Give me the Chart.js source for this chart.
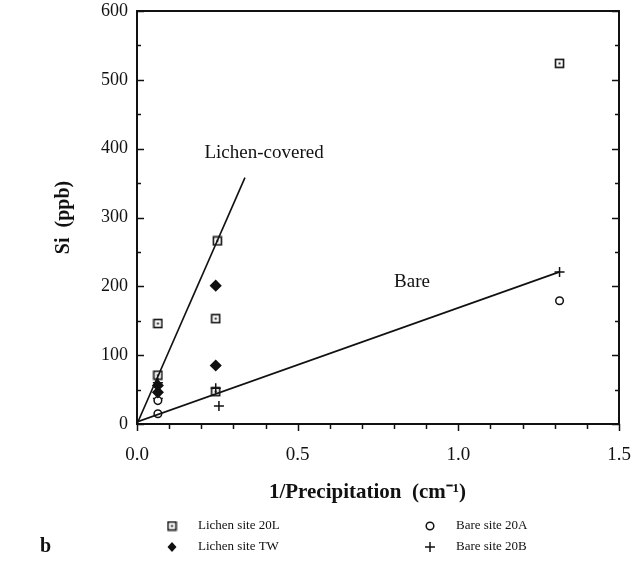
<!DOCTYPE html>
<html>
<head>
<meta charset="utf-8">
<script src="https://cdn.jsdelivr.net/npm/chart.js@4.4.1/dist/chart.umd.min.js"></script>
<style>
  html, body { margin: 0; padding: 0; background: #fff; }
  #chart { display: block; }
</style>
</head>
<body>
<canvas id="chart" width="633" height="566" style="width:633px;height:566px"></canvas>
<script>
// data (x = 1/precipitation in cm-1, y = Si in ppb)
const lichen20L_x = [0.065, 0.065, 0.25, 0.245, 0.245, 1.315];
const lichen20L_y = [146, 71, 266, 153, 47, 524];
const lichenTW_x = [0.065, 0.065, 0.245, 0.245];
const lichenTW_y = [56, 46, 201, 85];
const bare20A_x = [0.065, 0.065, 1.315];
const bare20A_y = [34, 15, 179];
const bare20B_x = [0.065, 0.065, 0.245, 0.255, 1.315];
const bare20B_y = [60, 37, 52, 26, 221];

// fitted lines
const lichenLine_x = [0, 0.336];
const lichenLine_y = [0, 358];
const bareLine_x = [0, 1.315];
const bareLine_y = [3, 221];

const yTickValues = [0, 100, 200, 300, 400, 500, 600];
const xTickValues = [0, 0.5, 1.0, 1.5];

const legendLabels = ['Lichen site 20L', 'Lichen site TW', 'Bare site 20A', 'Bare site 20B'];

const serif = "'Liberation Serif', 'Times New Roman', serif";
Chart.defaults.font.family = serif;
Chart.defaults.color = '#111';

function pts(xs, ys) {
  return xs.map((x, i) => ({ x: x, y: ys[i] }));
}

// square with a dot inside
function squareDot() {
  const c = document.createElement('canvas');
  c.width = 11; c.height = 11;
  const g = c.getContext('2d');
  g.strokeStyle = '#111';
  g.lineWidth = 1.6;
  g.strokeRect(1.5, 1.5, 8, 8);
  g.fillStyle = '#111';
  g.fillRect(4.5, 4.5, 2, 2);
  return c;
}
const squareImg = squareDot();

function drawMarker(ctx, kind, x, y) {
  ctx.save();
  ctx.strokeStyle = '#111';
  ctx.fillStyle = '#111';
  ctx.lineWidth = 1.5;
  if (kind === 0) {
    ctx.drawImage(squareImg, x - 5.5, y - 5.5);
  } else if (kind === 1) {
    ctx.beginPath();
    ctx.moveTo(x, y - 5); ctx.lineTo(x + 4.5, y); ctx.lineTo(x, y + 5); ctx.lineTo(x - 4.5, y);
    ctx.closePath(); ctx.fill();
  } else if (kind === 2) {
    ctx.beginPath(); ctx.arc(x, y, 3.8, 0, Math.PI * 2); ctx.stroke();
  } else {
    ctx.beginPath();
    ctx.moveTo(x - 5, y); ctx.lineTo(x + 5, y);
    ctx.moveTo(x, y - 5); ctx.lineTo(x, y + 5);
    ctx.stroke();
  }
  ctx.restore();
}

const framePlugin = {
  id: 'frame',
  afterDraw(chart) {
    const { ctx, chartArea: a, scales: { x, y } } = chart;
    ctx.save();
    ctx.strokeStyle = '#111';
    ctx.lineWidth = 2;
    ctx.strokeRect(a.left, a.top, a.right - a.left, a.bottom - a.top);

    ctx.lineWidth = 1.5;
    ctx.beginPath();
    // y ticks every 50, inside on both sides
    for (let v = 0; v <= 600; v += 50) {
      const py = Math.round(y.getPixelForValue(v)) + 0.5;
      const len = v % 100 === 0 ? 7 : 4;
      ctx.moveTo(a.left, py); ctx.lineTo(a.left + len, py);
      ctx.moveTo(a.right, py); ctx.lineTo(a.right - len, py);
    }
    // x ticks every 0.1, pointing down
    for (let i = 0; i <= 15; i++) {
      const px = Math.round(x.getPixelForValue(i / 10)) + 0.5;
      const len = i % 5 === 0 ? 7 : 5;
      ctx.moveTo(px, a.bottom); ctx.lineTo(px, a.bottom + len);
    }
    ctx.stroke();

    // line labels
    ctx.fillStyle = '#111';
    ctx.font = '19px ' + serif;
    ctx.textBaseline = 'middle';
    ctx.textAlign = 'left';
    ctx.fillText('Lichen-covered', x.getPixelForValue(0.21), y.getPixelForValue(394));
    ctx.fillText('Bare', x.getPixelForValue(0.80), y.getPixelForValue(206));

    // legend in two columns
    ctx.font = '13px ' + serif;
    const cols = [172, 430];
    const rows = [526, 547];
    const order = [[0, 0, 0], [1, 0, 1], [2, 1, 0], [3, 1, 1]];
    order.forEach(([k, c, r]) => {
      drawMarker(ctx, k, cols[c], rows[r]);
      ctx.fillText(legendLabels[k], cols[c] + 26, rows[r]);
    });

    ctx.font = 'bold 20px ' + serif;
    ctx.fillText('b', 40, 547);
    ctx.restore();
  }
};

const scatterSet = (label, xs, ys, style) => Object.assign({
  type: 'scatter',
  label: label,
  data: pts(xs, ys),
  borderColor: '#111',
  backgroundColor: '#111',
  borderWidth: 1.5,
  radius: 4.5,
  hoverRadius: 4.5
}, style);

new Chart(document.getElementById('chart'), {
  type: 'scatter',
  data: {
    datasets: [
      {
        type: 'line', label: 'Lichen-covered fit', data: pts(lichenLine_x, lichenLine_y),
        borderColor: '#111', borderWidth: 1.6, pointRadius: 0, fill: false, tension: 0
      },
      {
        type: 'line', label: 'Bare fit', data: pts(bareLine_x, bareLine_y),
        borderColor: '#111', borderWidth: 1.6, pointRadius: 0, fill: false, tension: 0
      },
      scatterSet(legendLabels[0], lichen20L_x, lichen20L_y, { pointStyle: squareImg }),
      scatterSet(legendLabels[1], lichenTW_x, lichenTW_y, { pointStyle: 'rectRot', radius: 5 }),
      scatterSet(legendLabels[2], bare20A_x, bare20A_y, { pointStyle: 'circle', backgroundColor: '#fff', radius: 3.8 }),
      scatterSet(legendLabels[3], bare20B_x, bare20B_y, { pointStyle: 'cross', radius: 5 })
    ]
  },
  options: {
    responsive: false,
    animation: false,
    events: [],
    layout: { padding: { top: 11, right: 14, left: 0, bottom: 52 } },
    plugins: { legend: { display: false }, tooltip: { enabled: false } },
    scales: {
      x: {
        type: 'linear', min: 0, max: 1.5,
        afterFit: (s) => { s.height = 90; s.paddingLeft = 0; s.paddingRight = 0; },
        grid: { display: false, drawTicks: false },
        border: { display: false },
        ticks: {
          stepSize: 0.5, padding: 20, maxRotation: 0, autoSkip: false,
          font: { size: 19 },
          callback: (v) => xTickValues.includes(v) ? v.toFixed(1) : ''
        },
        title: {
          display: true, text: '1/Precipitation  (cm\u207B\u00B9)\u2003',
          font: { size: 21, weight: 'bold' },
          padding: { top: 0, bottom: 9 }
        }
      },
      y: {
        type: 'linear', min: 0, max: 600,
        afterFit: (s) => { s.width = 137; s.paddingTop = 0; s.paddingBottom = 0; },
        grid: { display: false, drawTicks: false },
        border: { display: false },
        ticks: {
          stepSize: 100, padding: 9,
          font: { size: 18 },
          callback: (v) => yTickValues.includes(v) ? String(v) : ''
        },
        title: {
          display: true, text: 'Si  (ppb)',
          font: { size: 20, weight: 'bold' },
          padding: { top: 52, bottom: 0 }
        }
      }
    }
  },
  plugins: [framePlugin]
});
</script>
</body>
</html>
